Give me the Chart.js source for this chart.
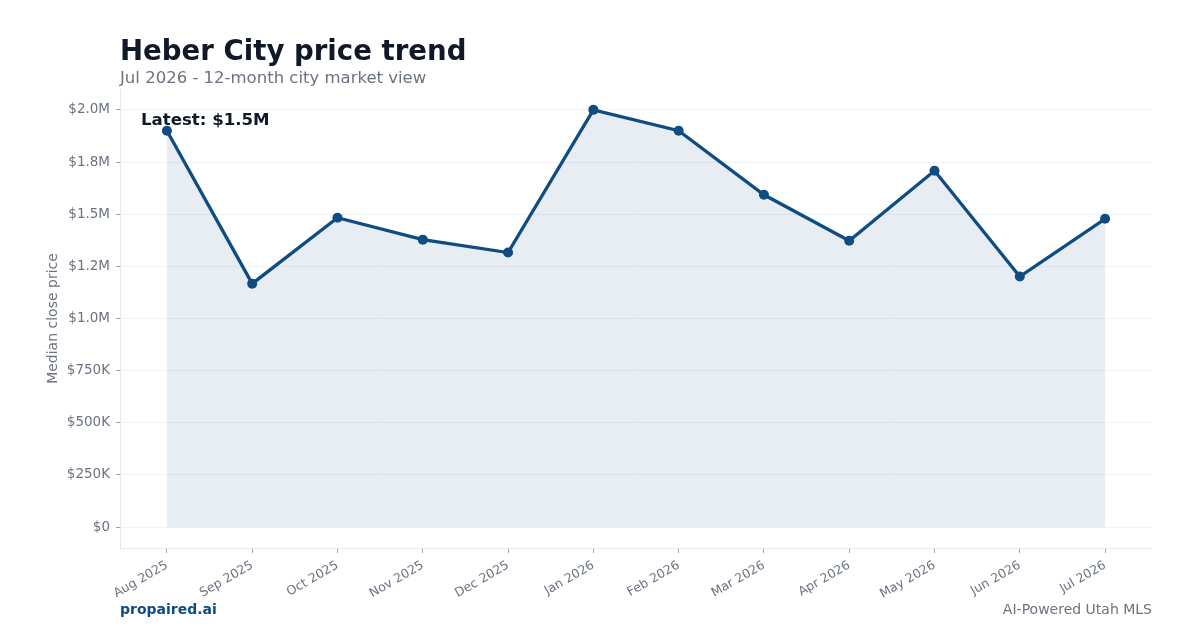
<!DOCTYPE html>
<html>
<head>
<meta charset="utf-8">
<script src="https://cdn.jsdelivr.net/npm/chart.js@4/dist/chart.umd.min.js"></script>
<style>
  body { margin: 0; background: #fff; }
  #wrap { width: 1200px; height: 630px; }
</style>
</head>
<body>
<div id="wrap"><canvas id="price-chart" width="1200" height="630"></canvas></div>
<script>
// heber city median close price, last 12 months
const months = ['Aug 2025', 'Sep 2025', 'Oct 2025', 'Nov 2025', 'Dec 2025', 'Jan 2026',
    'Feb 2026', 'Mar 2026', 'Apr 2026', 'May 2026', 'Jun 2026', 'Jul 2026'];
const prices = [1900000, 1167000, 1483000, 1378000, 1316000, 2000000,
    1900000, 1593000, 1373000, 1708000, 1201000, 1478000];

const yTickValues = [0, 250000, 500000, 750000, 1000000, 1250000, 1500000, 1750000, 2000000];
const yTickLabels = ['$0', '$250K', '$500K', '$750K', '$1.0M', '$1.2M', '$1.5M', '$1.8M', '$2.0M'];

const FONT = "'DejaVu Sans', sans-serif";
const grey = '#6b7280';
const navy = '#0f4c81';

const latest = prices[prices.length - 1];
const latestText = 'Latest: $' + (latest / 1e6).toFixed(1) + 'M';

// titles, footer and the "latest" note
const textPlugin = {
    id: 'texts',
    afterDraw(chart) {
        const ctx = chart.ctx;
        const area = chart.chartArea;
        ctx.save();
        ctx.textBaseline = 'alphabetic';
        ctx.textAlign = 'left';
        ctx.fillStyle = '#111827';
        ctx.font = 'bold 27.6px ' + FONT;
        ctx.fillText('Heber City price trend', 120, 60);
        ctx.fillStyle = grey;
        ctx.font = '16.5px ' + FONT;
        ctx.fillText('Jul 2026 - 12-month city market view', 120, 83);

        ctx.fillStyle = '#111827';
        ctx.font = 'bold 16.6px ' + FONT;
        ctx.fillText(latestText, area.left + 21, 125);

        ctx.fillStyle = navy;
        ctx.font = 'bold 14px ' + FONT;
        ctx.fillText('propaired.ai', 120, 614);
        ctx.fillStyle = grey;
        ctx.font = '14px ' + FONT;
        ctx.textAlign = 'right';
        ctx.fillText('AI-Powered Utah MLS', 1152, 614);
        ctx.restore();
    }
};

const config = {
    type: 'line',
    data: {
        datasets: [{
            data: months.map((m, i) => ({ x: i, y: prices[i] })),
            borderColor: navy,
            borderWidth: 3.3,
            backgroundColor: 'rgba(15,76,129,0.1)',
            fill: 'origin',
            pointRadius: 5,
            pointBackgroundColor: navy,
            pointBorderColor: navy,
            pointBorderWidth: 0,
            tension: 0
        }]
    },
    options: {
        responsive: false,
        animation: false,
        layout: { padding: { top: 89, right: 48, left: 0, bottom: 0 } },
        plugins: {
            legend: { display: false },
            tooltip: { enabled: false }
        },
        scales: {
            x: {
                type: 'linear',
                min: -0.55,
                max: 11.55,
                afterBuildTicks: (s) => { s.ticks = months.map((m, i) => ({ value: i })); },
                afterFit: (s) => { s.height = 82; },
                ticks: {
                    callback: (v) => months[v],
                    color: grey,
                    font: { family: FONT, size: 12.5 },
                    maxRotation: 30,
                    minRotation: 30,
                    padding: 5,
                    autoSkip: false
                },
                grid: {
                    drawOnChartArea: false,
                    drawTicks: true,
                    tickLength: 5,
                    tickColor: '#9ca3af'
                },
                border: { display: true, color: '#e5e7eb' }
            },
            y: {
                min: -100000,
                max: 2100000,
                afterBuildTicks: (s) => { s.ticks = yTickValues.map(v => ({ value: v })); },
                afterFit: (s) => { s.width = 120; },
                ticks: {
                    callback: (v) => yTickLabels[yTickValues.indexOf(v)],
                    color: grey,
                    font: { family: FONT, size: 13.5 },
                    padding: 6
                },
                grid: {
                    color: '#f1f2f4',
                    tickLength: 4,
                    tickColor: '#9ca3af'
                },
                border: { display: true, color: '#e5e7eb' },
                title: {
                    display: true,
                    text: 'Median close price',
                    color: grey,
                    font: { family: FONT, size: 14 },
                    padding: { top: 45, bottom: 0 }
                }
            }
        }
    },
    plugins: [textPlugin]
};

const priceChart = new Chart(document.getElementById('price-chart'), config);
</script>
</body>
</html>
